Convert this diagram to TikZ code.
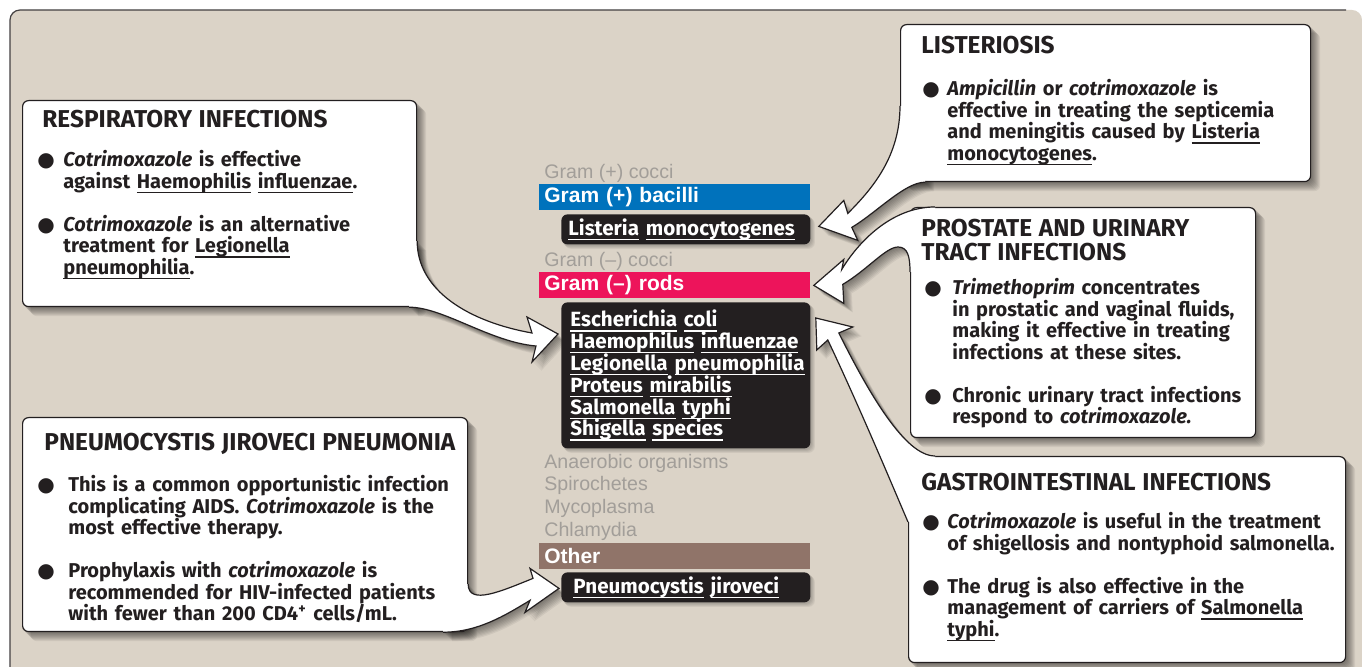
\documentclass[tikz,border=0pt]{standalone}
\usepackage{fontspec}
\setmainfont{Fira Sans}
\newfontfamily\arialfont{Liberation Sans}
\newfontfamily\dotfont{DejaVu Sans}
\usepackage{tikz}
\usetikzlibrary{positioning,calc}
\definecolor{cPanel}{HTML}{DBD3C7}
\definecolor{cInk}{HTML}{231F20}
\definecolor{cPos}{HTML}{0072BC}
\definecolor{cNeg}{HTML}{ED145B}
\definecolor{cOther}{HTML}{907469}
\definecolor{cFaint}{HTML}{A29E99}
\pgfdeclarelayer{panel}
\pgfdeclarelayer{shade}
\pgfsetlayers{panel,shade,main}
\setlength{\parindent}{0pt}
\newcommand{\bodyfont}{\fontsize{10}{10.75}\selectfont\bfseries}
\newcommand{\headfont}{\fontsize{12.2}{12}\selectfont\bfseries}
\newcommand{\barfont}{\arialfont\fontsize{10.5}{12}\selectfont\bfseries}
\newcommand{\faintfont}{\arialfont\fontsize{9.8}{11}\selectfont}
\newsavebox{\uwbox}
\newcommand{\uw}[1]{\leavevmode\sbox{\uwbox}{#1}\rlap{\rule[-2.3pt]{\wd\uwbox}{0.55pt}}\usebox{\uwbox}}
\newcommand{\bul}[1]{\leavevmode\llap{\makebox[#1][l]{\dotfont\fontsize{10}{10}\selectfont ●}}}
\tikzset{
  cbox/.style={draw=cInk,fill=white,line width=0.6pt,rounded corners=3pt,anchor=north west,inner sep=0pt},
  ctext/.style={anchor=north west,inner sep=0pt,text width=215pt,align=left,font=\bodyfont,text=cInk},
  tail/.style={draw=cInk,line width=0.6pt},
  bar/.style={anchor=north west,minimum width=135.5pt,minimum height=13pt,inner xsep=2.5pt,inner ysep=0pt,text width=130.5pt,align=left,font=\barfont,text=white},
  spp/.style={anchor=north west,fill=cInk,rounded corners=3pt,minimum width=124.5pt,inner xsep=3.5pt,inner ysep=0pt,text width=117.5pt,align=left,font=\fontsize{10.3}{10.9}\selectfont\bfseries,text=white},
  faint/.style={anchor=base west,inner sep=0pt,font=\faintfont,text=cFaint},
  shadow/.style={fill=black,opacity=0.06}}

\begin{document}
\begin{tikzpicture}[x=0.5pt,y=-0.5pt]
\useasboundingbox (0,0) rectangle (1362,667);
\begin{pgfonlayer}{panel}
  \fill[cPanel] (10,667) [rounded corners=5pt] -- (10,10) -- (1362,10) [sharp corners] -- (1362,667) -- cycle;
  \draw[cInk!85,line width=0.6pt] (10,667) [rounded corners=5pt] -- (10,10) -- (1346,10);
\end{pgfonlayer}

% organism column
\node[faint] (gpc) at (544,179) {Gram (+) cocci};
\node[bar,fill=cPos] (posbar) at (539,184) {Gram (+) bacilli};
\node[spp,minimum height=15pt] (listeria) at (561,214) {\uw{Listeria}~\uw{monocytogenes}};
\node[faint] (gnc) at (544,267) {Gram (–) cocci};
\node[bar,fill=cNeg] (negbar) at (539,272) {Gram (–) rods};
\node[spp,minimum height=73pt,inner xsep=4.5pt,text width=115.5pt] (gneg) at (561,302)
  {\uw{Escherichia}~\uw{coli}\\ \uw{Haemophilus}~\uw{influenzae}\\ \uw{Legionella}~\uw{pneumophilia}\\
   \uw{Proteus}~\uw{mirabilis}\\ \uw{Salmonella}~\uw{typhi}\\ \uw{Shigella}~\uw{species}};
\node[faint] (anae) at (544,469) {Anaerobic organisms};
\node[faint] (spiro) at (544,491) {Spirochetes};
\node[faint] (myco) at (544,514) {Mycoplasma};
\node[faint] (chla) at (544,537) {Chlamydia};
\node[bar,fill=cOther] (othbar) at (539,543) {Other};
\node[spp,minimum height=15pt,inner xsep=6pt,text width=112.5pt] (pj) at (561,572) {\uw{Pneumocystis}~\uw{jiroveci}};

% callout boxes
\node[cbox,minimum width=197pt,minimum height=103pt] (resp) at (22,100) {};
\node[cbox,minimum width=222.5pt,minimum height=107pt] (pneu) at (22,417) {};
\node[cbox,minimum width=205pt,minimum height=78.5pt] (list) at (900,24) {};
\node[cbox,minimum width=172.5pt,minimum height=115pt] (pros) at (910,207) {};
\node[cbox,minimum width=218.5pt,minimum height=103pt] (gi) at (908,456) {};

% tails from each box to the organisms
\def\resptail{($(resp.south east)+(0,-66)$) .. controls +(0,50) and +(-62,-11) .. ($(gneg.north west)+(-29,31)$)
  -- ++(-5,-16) -- ($(gneg.north west)+(-3,32)$) -- ++(-26,28) -- ++(4,-16)
  .. controls +(-46,-4) and +(34,0) .. ($(resp.south east)+(-8,0)$)}
\def\pneutail{($(pneu.south east)+(0,-48)$) .. controls +(0,22) and +(-30,12) .. ($(pj.west)+(-28,-9)$)
  -- ++(-3,-10) -- ($(pj.west)+(-2,1)$) -- ++(-34,24) -- ++(5,-12)
  .. controls +(-25,15) and +(35,0) .. ($(pneu.south east)+(-25,0)$)}
\def\listtail{($(list.north west)+(0,82)$) .. controls +(0,50) and +(25,-25) .. ($(listeria.east)+(37,-16)$)
  -- ++(-4,-13) -- ($(listeria.east)+(8,-3)$) -- ++(39,14) -- ++(-6,-13)
  .. controls +(25,-15) and +(-20,0) .. ($(list.south west)+(25,0)$)}
\def\prostail{($(pros.north west)+(25,0)$) .. controls +(-45,0) and +(15,-25) .. ($(negbar.east)+(31,-16)$)
  -- ++(2,-10) -- ($(negbar.east)+(3,0)$) -- ++(30,18) -- ++(-1,-19)
  .. controls +(25,-15) and +(-12,0) .. ($(pros.north west)+(-12,40)$)
  .. controls +(10,0) and +(0,-15) .. ($(pros.north west)+(0,65)$)}
\def\gitail{($(gi.north west)+(27,0)$) .. controls +(-30,0) and +(30,60) .. ($(gneg.north east)+(28,31)$)
  -- ++(14,-6) -- ($(gneg.north east)+(5,16)$) -- ++(1,32) -- ++(11,-10)
  .. controls +(33,70) and +(-18,-42) .. ($(gi.north west)+(0,66)$)}

\fill[white] \resptail -- ($(resp.south east)+(-8,-66)$) -- cycle;
\fill[white] \pneutail -- ($(pneu.south east)+(-25,-48)$) -- cycle;
\fill[white] \listtail -- ($(list.south west)+(25,-75)$) -- cycle;
\fill[white] \prostail -- ($(pros.north west)+(25,65)$) -- cycle;
\fill[white] \gitail -- ($(gi.north west)+(27,66)$) -- cycle;
\draw[tail] \resptail;
\draw[tail] \pneutail;
\draw[tail] \listtail;
\draw[tail] \prostail;
\draw[tail] \gitail;

% box texts
\node[ctext] (resptx) at ($(resp.north west)+(41,9.9)$)
  {\hspace*{-10.5pt}{\headfont RESPIRATORY INFECTIONS}\\[8.9pt]
   \bul{13pt}\textit{Cotrimoxazole} is effective\\
   against \uw{Haemophilis} \uw{influenzae}.\\[10.75pt]
   \bul{13pt}\textit{Cotrimoxazole} is an alternative\\
   treatment for \uw{Legionella}\\
   \uw{pneumophilia}.};
\node[ctext] (pneutx) at ($(pneu.north west)+(46,15.9)$)
  {\hspace*{-12pt}{\headfont PNEUMOCYSTIS JIROVECI PNEUMONIA}\\[9.9pt]
   \bul{15.5pt}This is a common opportunistic infection\\
   complicating AIDS. \textit{Cotrimoxazole} is the\\
   most effective therapy.\\[10.75pt]
   \bul{15.5pt}Prophylaxis with \textit{cotrimoxazole} is\\
   recommended for HIV-infected patients\\
   with fewer than 200 CD4\textsuperscript{+} cells/mL.};
\node[ctext] (listtx) at ($(list.north west)+(47,11.9)$)
  {\hspace*{-13pt}{\headfont LISTERIOSIS}\\[10.4pt]
   \bul{12.5pt}\textit{Ampicillin} or \textit{cotrimoxazole} is\\
   effective in treating the septicemia\\
   and meningitis caused by \uw{Listeria}\\
   \uw{monocytogenes}.};
\node[ctext] (prostx) at ($(pros.north west)+(42,11.9)$)
  {\hspace*{-15.5pt}{\headfont PROSTATE AND URINARY}\\[1.25pt]
   \hspace*{-15.5pt}{\headfont TRACT INFECTIONS}\\[6.4pt]
   \bul{14pt}\textit{Trimethoprim} concentrates\\
   in prostatic and vaginal fluids,\\
   making it effective in treating\\
   infections at these sites.\\[10.75pt]
   \bul{14pt}Chronic urinary tract infections\\
   respond to \textit{cotrimoxazole.}};
\node[ctext] (gitx) at ($(gi.north west)+(39,16.9)$)
  {\hspace*{-13pt}{\headfont GASTROINTESTINAL INFECTIONS}\\[8.4pt]
   \bul{12.5pt}\textit{Cotrimoxazole} is useful in the treatment\\
   of shigellosis and nontyphoid salmonella.\\[10.75pt]
   \bul{12.5pt}The drug is also effective in the\\
   management of carriers of \uw{Salmonella}\\
   \uw{typhi}.};

% soft shadows
\begin{pgfonlayer}{shade}
\foreach \s in {1,...,9}{
  \begin{scope}[transform canvas={shift={(\s,\s)}}]
    \foreach \b in {resp,pneu,list,pros,gi}
      \fill[shadow,rounded corners=3pt] (\b.north west) rectangle (\b.south east);
    \fill[shadow] \resptail -- ($(resp.south east)+(-8,-66)$) -- cycle;
    \fill[shadow] \pneutail -- ($(pneu.south east)+(-25,-48)$) -- cycle;
    \fill[shadow] \listtail -- ($(list.south west)+(25,-75)$) -- cycle;
    \fill[shadow] \prostail -- ($(pros.north west)+(25,65)$) -- cycle;
    \fill[shadow] \gitail -- ($(gi.north west)+(27,66)$) -- cycle;
  \end{scope}}
\foreach \s in {1,...,4}{
  \begin{scope}[transform canvas={shift={(\s,\s)}}]
    \foreach \b in {listeria,gneg,pj}
      \fill[shadow,rounded corners=3pt] (\b.north west) rectangle (\b.south east);
  \end{scope}}
\end{pgfonlayer}
\end{tikzpicture}
\end{document}
